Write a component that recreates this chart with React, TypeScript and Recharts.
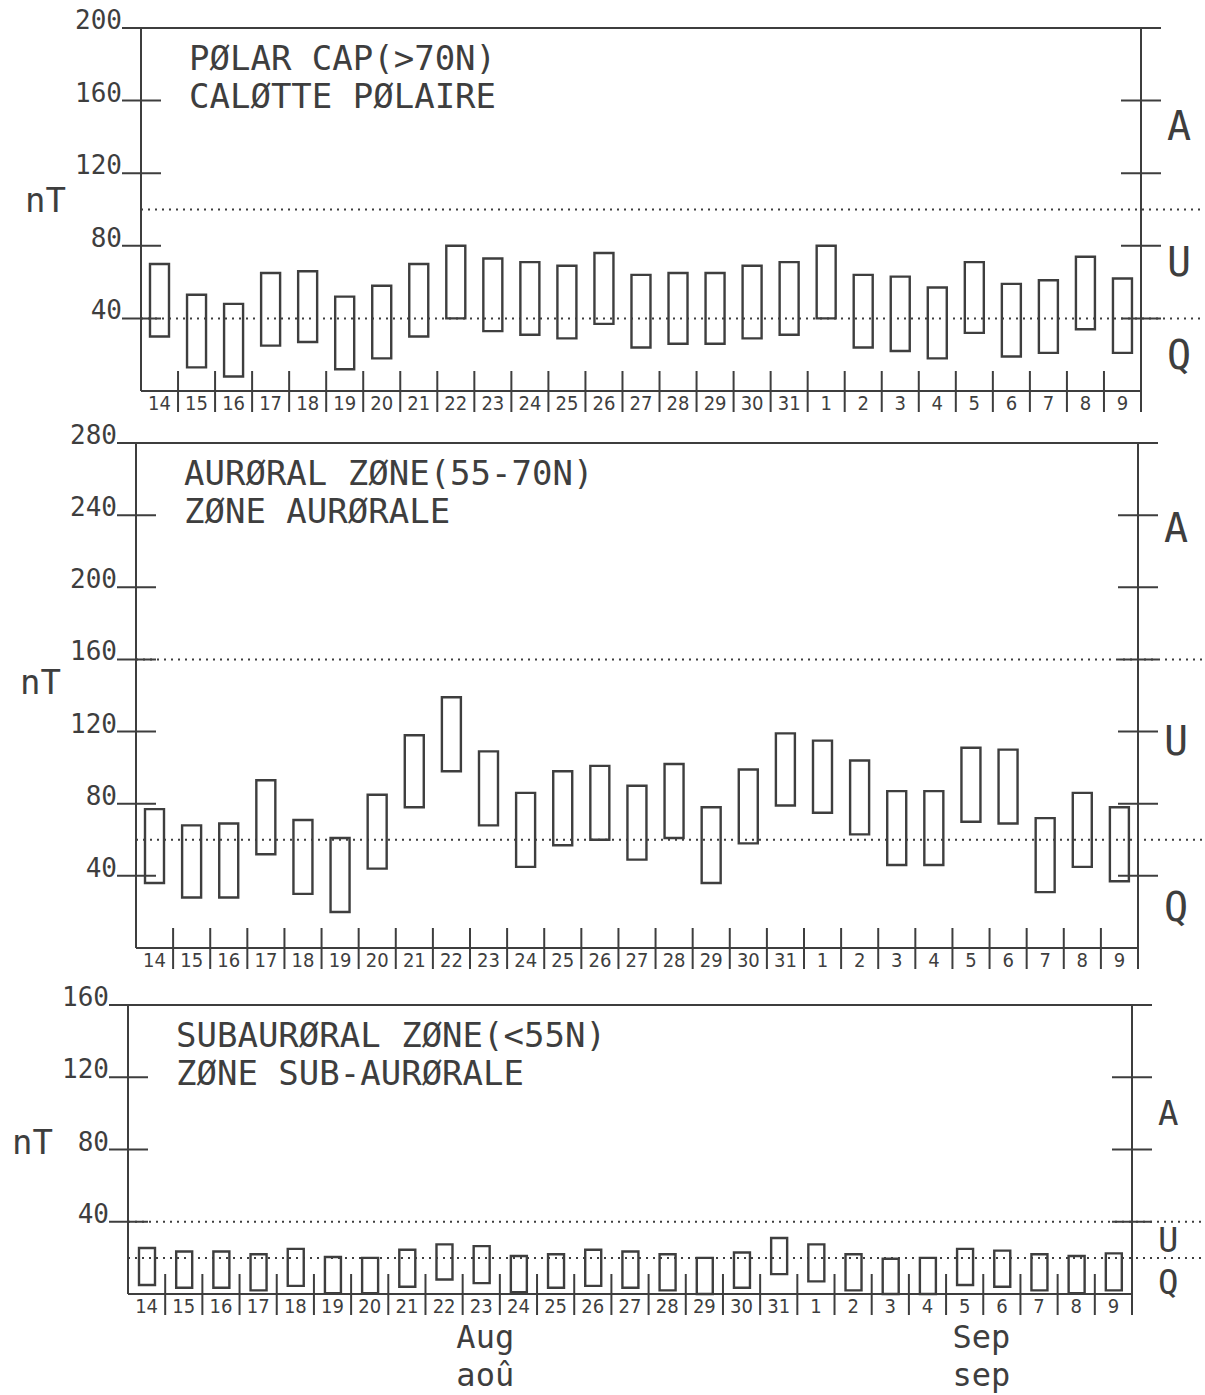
import { BarChart, Bar, XAxis, YAxis, ReferenceLine } from "recharts";

// days Aug 14 .. Sep 9
const days = ["14", "15", "16", "17", "18", "19", "20", "21", "22", "23", "24", "25", "26", "27", "28", "29", "30", "31", "1", "2", "3", "4", "5", "6", "7", "8", "9"];

// polar cap (>70N)
const polarLow = [30, 13, 8, 25, 27, 12, 18, 30, 40, 33, 31, 29, 37, 24, 26, 26, 29, 31, 40, 24, 22, 18, 32, 19, 21, 34, 21];
const polarHigh = [70, 53, 48, 65, 66, 52, 58, 70, 80, 73, 71, 69, 76, 64, 65, 65, 69, 71, 80, 64, 63, 57, 71, 59, 61, 74, 62];

// auroral zone (55-70N)
const auroralLow = [36, 28, 28, 52, 30, 20, 44, 78, 98, 68, 45, 57, 60, 49, 61, 36, 58, 79, 75, 63, 46, 46, 70, 69, 31, 45, 37];
const auroralHigh = [77, 68, 69, 93, 71, 61, 85, 118, 139, 109, 86, 98, 101, 90, 102, 78, 99, 119, 115, 104, 87, 87, 111, 110, 72, 86, 78];

// subauroral zone (<55N)
const subLow = [5, 3.5, 3.5, 2, 4.5, 0.5, 0.5, 4, 8, 6, 1, 3.5, 4.5, 3.5, 2, 0, 3.5, 11, 7, 2, 0, 0, 5, 4, 2, 0.5, 2];
const subHigh = [25.5, 23.5, 23.5, 22, 25, 20.5, 20, 24.5, 27.5, 26.5, 21, 22, 24.5, 23.5, 22, 20, 23, 31, 27.5, 22, 19.5, 20, 25, 24, 22, 21, 22.5];

const polarLeftTicks = [40, 80, 120, 160, 200];
const polarRightTicks = [40, 80, 120, 160];
const polarDotted = [40, 100];
const polarZones = [{ label: "A", value: 146 }, { label: "U", value: 71 }, { label: "Q", value: 20 }];

const auroralLeftTicks = [40, 80, 120, 160, 200, 240, 280];
const auroralRightTicks = [40, 80, 120, 160, 200, 240];
const auroralDotted = [60, 160];
const auroralZones = [{ label: "A", value: 233 }, { label: "U", value: 115 }, { label: "Q", value: 23 }];

const subLeftTicks = [40, 80, 120, 160];
const subRightTicks = [40, 80, 120];
const subDotted = [20, 40];
const subZones = [{ label: "A", value: 100 }, { label: "U", value: 30 }, { label: "Q", value: 6.5 }];

const months = [
  { day: "23", en: "Aug", fr: "aoû" },
  { day: "5", en: "Sep", fr: "sep" },
];

const W = 1205;
const INK = "#3e3e3e";
const MONO = "'DejaVu Sans Mono', monospace";
const NARROW = "'Liberation Sans Narrow', 'DejaVu Sans Condensed', 'DejaVu Sans Mono', sans-serif";

type Zone = { label: string; value: number };
type Margin = { top: number; right: number; bottom: number; left: number };

type PanelProps = {
  top: number;
  height: number;
  margin: Margin; // margins to the plot area edges
  low: number[];
  high: number[];
  yMax: number;
  leftTicks: number[];
  rightTicks: number[];
  dotted: number[];
  zones: Zone[];
  zoneFont: number;
  title: string[];
  barSize: number;
  showMonths?: boolean;
};

const Panel = ({ top, height, margin, low, high, yMax, leftTicks, rightTicks, dotted, zones, zoneFont, title, barSize, showMonths }: PanelProps) => {
  const plotW = W - margin.left - margin.right;
  const band = plotW / days.length;
  const data = days.map((day, i) => ({ day, lo: low[i], hi: high[i] }));
  // axes take 1px each, so shrink the chart margins by that
  const chartMargin = { top: margin.top, right: margin.right - 1, bottom: margin.bottom - 1, left: margin.left - 1 };

  const leftTick = (p: any) => {
    const { x, y, payload } = p;
    const isTop = payload.value === yMax;
    return (
      <g>
        <line x1={x - 19} x2={isTop ? x + plotW + 20 : x + 20} y1={y} y2={y} stroke={INK} strokeWidth={2} />
        <text x={x - 19} y={y + 1} textAnchor="end" fontSize={26} fontFamily={MONO} fill={INK}>
          {payload.value}
        </text>
      </g>
    );
  };

  const xTick = (p: any) => {
    const { x, y, payload } = p;
    const m = showMonths ? months.find((mm) => mm.day === payload.value) : undefined;
    const nudge = m && m.en === "Sep" ? band * 0.45 : 4;
    return (
      <g>
        <line x1={x + band / 2} x2={x + band / 2} y1={y - 20} y2={y + 21} stroke={INK} strokeWidth={2} />
        <text x={x} y={y + 19} textAnchor="middle" fontSize={20} fontFamily={NARROW} fill={INK}>
          {payload.value}
        </text>
        {m && (
          <>
            <text x={x + nudge} y={y + 54} textAnchor="middle" fontSize={32} fontFamily={MONO} fill={INK}>
              {m.en}
            </text>
            <text x={x + nudge} y={y + 92} textAnchor="middle" fontSize={32} fontFamily={MONO} fill={INK}>
              {m.fr}
            </text>
          </>
        )}
      </g>
    );
  };

  const nTLabel = (p: any) => {
    const vb = p.viewBox || { x: margin.left, y: margin.top, width: 0, height: 0 };
    return (
      <text x={vb.x + vb.width - 75} y={vb.y + vb.height * 0.474} textAnchor="end" dominantBaseline="central" fontSize={34} fontFamily={MONO} fill={INK}>
        nT
      </text>
    );
  };

  return (
    <div style={{ position: "absolute", left: 0, top }}>
      <BarChart width={W} height={height} data={data} margin={chartMargin}>
        <XAxis
          dataKey="day"
          height={1}
          interval={0}
          tickSize={0}
          tickMargin={0}
          tickLine={false}
          axisLine={{ stroke: INK, strokeWidth: 2 }}
          tick={xTick}
        />
        <YAxis
          yAxisId="l"
          type="number"
          domain={[0, yMax]}
          ticks={leftTicks}
          interval={0}
          width={1}
          tickSize={0}
          tickMargin={0}
          tickLine={false}
          axisLine={{ stroke: INK, strokeWidth: 2 }}
          tick={leftTick}
          label={nTLabel}
        />
        <YAxis
          yAxisId="r"
          orientation="right"
          type="number"
          domain={[0, yMax]}
          width={1}
          tickLine={false}
          tick={false}
          axisLine={{ stroke: INK, strokeWidth: 2 }}
        />
        {dotted.map((v) => (
          <ReferenceLine
            key={`d${v}`}
            yAxisId="l"
            y={v}
            shape={(p: any) => (
              <line x1={p.x1} y1={p.y1} x2={p.x2 + margin.right} y2={p.y2} stroke={INK} strokeWidth={2} strokeDasharray="2 5" />
            )}
          />
        ))}
        {/* tick marks crossing the right axis */}
        {rightTicks.map((v) => (
          <ReferenceLine
            key={`r${v}`}
            yAxisId="l"
            y={v}
            shape={(p: any) => <line x1={p.x2 - 20} y1={p.y1} x2={p.x2 + 20} y2={p.y2} stroke={INK} strokeWidth={2} />}
          />
        ))}
        {/* activity levels: quiet / unsettled / active */}
        {zones.map((z) => (
          <ReferenceLine
            key={z.label}
            yAxisId="l"
            y={z.value}
            shape={(p: any) => (
              <text x={p.x2 + 26} y={p.y1} dominantBaseline="central" fontSize={zoneFont} fontFamily={MONO} fill={INK}>
                {z.label}
              </text>
            )}
          />
        ))}
        <Bar
          yAxisId="l"
          dataKey={(d: any) => [d.lo, d.hi]}
          barSize={barSize}
          fill="none"
          stroke={INK}
          strokeWidth={2.4}
          isAnimationActive={false}
        />
      </BarChart>
      <div
        style={{
          position: "absolute",
          left: margin.left + 48,
          top: margin.top + 11,
          fontFamily: MONO,
          fontSize: 34,
          lineHeight: "38px",
          color: INK,
          whiteSpace: "pre",
        }}
      >
        {title.map((t) => (
          <div key={t}>{t}</div>
        ))}
      </div>
    </div>
  );
};

export default function App() {
  return (
    <div style={{ position: "absolute", left: 0, top: 0, width: W, height: 1395, background: "#fff" }}>
      <Panel
        top={0}
        height={415}
        margin={{ top: 28, right: 64, bottom: 24, left: 141 }}
        low={polarLow}
        high={polarHigh}
        yMax={200}
        leftTicks={polarLeftTicks}
        rightTicks={polarRightTicks}
        dotted={polarDotted}
        zones={polarZones}
        zoneFont={40}
        title={["PØLAR CAP(>70N)", "CALØTTE PØLAIRE"]}
        barSize={19}
      />
      <Panel
        top={415}
        height={560}
        margin={{ top: 28, right: 67, bottom: 27, left: 136 }}
        low={auroralLow}
        high={auroralHigh}
        yMax={280}
        leftTicks={auroralLeftTicks}
        rightTicks={auroralRightTicks}
        dotted={auroralDotted}
        zones={auroralZones}
        zoneFont={40}
        title={["AURØRAL ZØNE(55-70N)", "ZØNE AURØRALE"]}
        barSize={19}
      />
      <Panel
        top={975}
        height={420}
        margin={{ top: 30, right: 73, bottom: 101, left: 128 }}
        low={subLow}
        high={subHigh}
        yMax={160}
        leftTicks={subLeftTicks}
        rightTicks={subRightTicks}
        dotted={subDotted}
        zones={subZones}
        zoneFont={34}
        title={["SUBAURØRAL ZØNE(<55N)", "ZØNE SUB-AURØRALE"]}
        barSize={16}
        showMonths
      />
    </div>
  );
}
